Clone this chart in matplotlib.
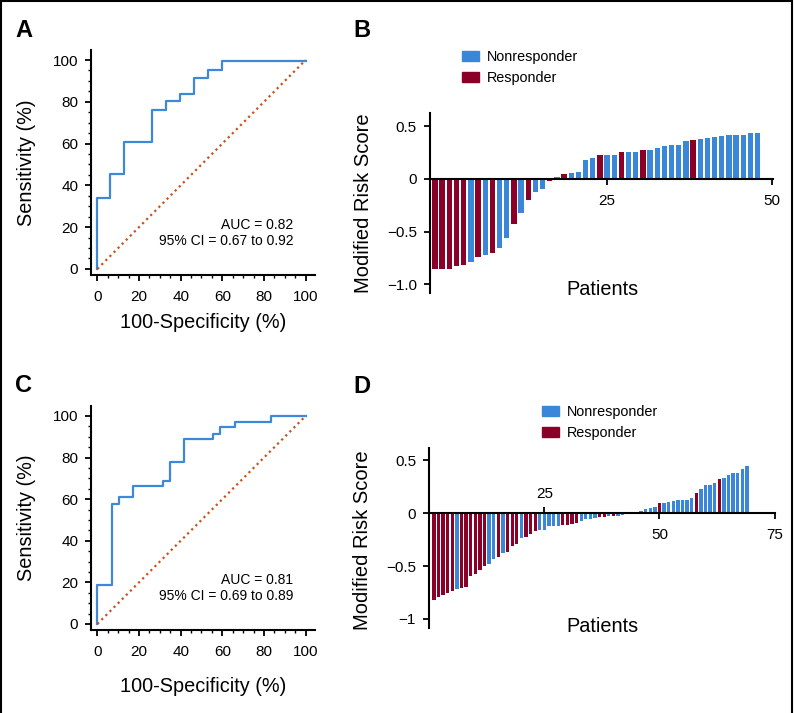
import matplotlib
matplotlib.use("Agg")
import matplotlib.pyplot as plt
from matplotlib.ticker import MultipleLocator, FixedLocator
from matplotlib.patches import Patch, Rectangle

plt.rcParams['font.family'] = ['Liberation Sans', 'DejaVu Sans']

BLUE = '#3a86d8'
RED = '#8b0027'
ROC_BLUE = '#3f88d8'
DIAG = '#c6521c'

# ROC curves (corner points of the step curve, in %)
roc_a_fpr = [0, 0, 6.2, 13, 26.2, 32.8, 39.7, 46.4, 53.1, 59.7, 100]
roc_a_tpr = [0, 34, 45.5, 61, 76, 80.2, 83.7, 91.5, 95.4, 99.5, 99.5]
auc_a = ['AUC = 0.82', '95% CI = 0.67 to 0.92']

roc_c_fpr = [0, 0, 6.9, 10.4, 17.3, 31.4, 34.9, 41.8, 55.7, 58.9, 66.1, 83.2, 100]
roc_c_tpr = [0, 18.5, 57.7, 61, 66.5, 68.9, 77.7, 88.8, 91.5, 94.6, 97.3, 100, 100]
auc_c = ['AUC = 0.81', '95% CI = 0.69 to 0.89']

# waterfall, cohort B (R = responder, N = nonresponder)
risk_b = [-0.858, -0.858, -0.855, -0.83, -0.82, -0.79, -0.74, -0.72, -0.70, -0.66,
          -0.56, -0.43, -0.32, -0.20, -0.12, -0.095, -0.02, 0.02, 0.045, 0.06,
          0.07, 0.18, 0.20, 0.225, 0.225, 0.225, 0.26, 0.26, 0.26, 0.275,
          0.28, 0.29, 0.31, 0.32, 0.32, 0.36, 0.37, 0.38, 0.39, 0.40,
          0.41, 0.415, 0.42, 0.42, 0.435, 0.44]
group_b = list("RRRRRNRNRNNRNRNNRNRNNNNRNNRNNRNNNNNNRNNNNNNNNN")

# waterfall, cohort D
risk_d = [-0.82, -0.79, -0.77, -0.75, -0.74, -0.72, -0.71, -0.70, -0.59, -0.575,
          -0.54, -0.50, -0.48, -0.43, -0.41, -0.38, -0.37, -0.305, -0.29, -0.235,
          -0.225, -0.195, -0.165, -0.157, -0.155, -0.125, -0.125, -0.122, -0.11, -0.11,
          -0.10, -0.095, -0.075, -0.057, -0.05, -0.045, -0.038, -0.036, -0.028, -0.025,
          -0.022, -0.019, -0.004, -0.002, 0.0, 0.022, 0.04, 0.047, 0.057, 0.094,
          0.10, 0.11, 0.12, 0.125, 0.13, 0.13, 0.14, 0.195, 0.23, 0.27,
          0.27, 0.285, 0.32, 0.33, 0.36, 0.38, 0.38, 0.42, 0.445]
group_d = list("RRRRRNRRRRRRNNRNRRRNRRRNNNNNRRRRNNNNRRNRNNNNNNNNNRNNNNNNNRNNNNRNNNNNN")

W, H = 794, 713
fig = plt.figure(figsize=(W / 100, H / 100), dpi=100)


def px_axes(left, top, right, bottom):
    return fig.add_axes([left / W, 1 - bottom / H, (right - left) / W, (bottom - top) / H])


def roc_panel(ax, fpr, tpr, auc_lines, xlab_y, ylab_x):
    ax.step(fpr, tpr, where='post', color=ROC_BLUE, lw=1.6)
    ax.plot([0, 100], [0, 100], color=DIAG, lw=1.6, ls=(0, (1, 1.6)))
    ax.set_xlim(-3.2, 104.5)
    ax.set_ylim(-2.9, 104.8)
    ax.xaxis.set_major_locator(MultipleLocator(20))
    ax.yaxis.set_major_locator(MultipleLocator(20))
    ax.xaxis.set_minor_locator(MultipleLocator(5))
    ax.yaxis.set_minor_locator(MultipleLocator(5))
    for s in ['top', 'right']:
        ax.spines[s].set_visible(False)
    for s in ['left', 'bottom']:
        ax.spines[s].set_linewidth(1.5)
    ax.tick_params(which='major', length=4, width=1.3, labelsize=11, pad=5)
    ax.tick_params(which='minor', length=2.2, width=1.0)
    ax.tick_params(axis='x', which='major', pad=7)
    ax.text(94, 21, auc_lines[0], ha='right', va='center', fontsize=10)
    ax.text(94, 13.4, auc_lines[1], ha='right', va='center', fontsize=10)
    ax.set_xlabel('100-Specificity (%)', fontsize=14.3, va='center')
    ax.set_ylabel('Sensitivity (%)', fontsize=14.3, va='center')
    ax.xaxis.set_label_coords(0.5, xlab_y)
    ax.yaxis.set_label_coords(ylab_x, 0.5)


def waterfall_panel(ax, risk, group, width):
    pos = range(1, len(risk) + 1)
    cols = [RED if g == 'R' else BLUE for g in group]
    ax.bar(pos, risk, width=width, color=cols, linewidth=0)
    for s in ['top', 'right']:
        ax.spines[s].set_visible(False)
    ax.spines['bottom'].set_position(('data', 0))
    ax.spines['bottom'].set_linewidth(1.5)
    ax.spines['left'].set_linewidth(1.5)
    ax.tick_params(which='major', length=4.5, width=1.3, labelsize=11, pad=5)
    ax.set_ylabel('Modified Risk Score', fontsize=14.5, va='center')
    ax.set_xlabel('Patients', fontsize=14.3, va='center')
    ax.legend(handles=[Patch(color=BLUE, label='Nonresponder'),
                       Patch(color=RED, label='Responder')],
              frameon=False, fontsize=10.4, handlelength=1.2, handleheight=0.7,
              handletextpad=0.55, labelspacing=0.5, borderpad=0, borderaxespad=0,
              loc='upper left')


# A
axA = px_axes(90.7, 50, 315, 275)
roc_panel(axA, roc_a_fpr, roc_a_tpr, auc_a, -0.209, -0.284)

# C
axC = px_axes(90.7, 406, 315, 630)
roc_panel(axC, roc_c_fpr, roc_c_tpr, auc_c, -0.25, -0.288)

# B
axB = px_axes(430, 113, 772.7, 293)
waterfall_panel(axB, risk_b, group_b, 0.75)
axB.set_xlim(0.3, 48.1)
axB.set_ylim(-1.083, 0.627)
axB.set_yticks([0.5, 0, -0.5, -1.0], ['0.5', '0', '\u22120.5', '\u22121.0'])
# the end tick of the axis carries the label "50" in the original
axB.set_xticks([25, 48], ['25', '50'])
axB.tick_params(axis='x', pad=6)
axB.xaxis.set_label_coords(0.502, 0.017)
axB.yaxis.set_label_coords(-0.1955, 0.5)
axB.get_legend().set_bbox_to_anchor((462 / W, 1 - 50 / H), transform=fig.transFigure)

# D
axD = px_axes(429.3, 448, 775, 628)
waterfall_panel(axD, risk_d, group_d, 0.72)
axD.set_xlim(0, 75.1)
axD.set_ylim(-1.086, 0.618)
axD.set_yticks([0.5, 0, -0.5, -1], ['0.5', '0', '\u22120.5', '\u22121'])
axD.set_xticks([50, 75], ['50', '75'])
axD.xaxis.set_minor_locator(FixedLocator([25]))
axD.xaxis.set_minor_formatter(lambda v, p: '25')
axD.tick_params(axis='x', which='major', pad=6)
axD.tick_params(axis='x', which='minor', direction='in', length=4.5, width=1.3,
                labelsize=11, pad=-19)
axD.xaxis.set_label_coords(0.4996, 0.011)
axD.yaxis.set_label_coords(-0.192, 0.489)
axD.get_legend().set_bbox_to_anchor((542 / W, 1 - 405 / H), transform=fig.transFigure)

# panel letters
for letter, x, y in [('A', 15, 37), ('B', 353, 37), ('C', 15, 392), ('D', 353, 393)]:
    fig.text(x / W, 1 - y / H, letter, fontsize=17, fontweight='bold', va='baseline')

# frame around the figure (open at the bottom)
fig.add_artist(Rectangle((0.0015, -0.05), 0.996, 1.048, transform=fig.transFigure,
                         fill=False, lw=1.5, ec='black', clip_on=False))

fig.savefig('out.png', dpi=100)
